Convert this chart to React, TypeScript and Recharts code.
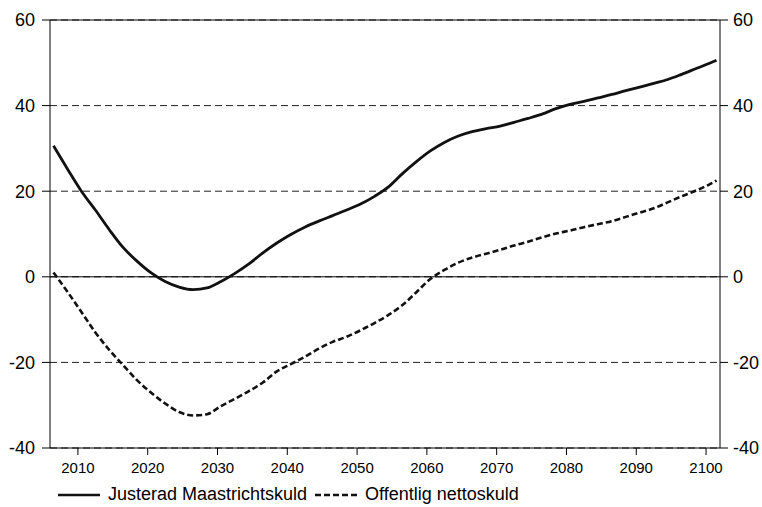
import { ComposedChart, Line, XAxis, YAxis, CartesianGrid, ReferenceLine, Legend } from "recharts"

const FONT = '"Liberation Sans", Arial, sans-serif'

// years of the two series (last point 2101)
const years = [
    2006, 2008, 2010, 2012, 2014, 2016, 2018, 2020, 2022, 2024, 2026, 2028, 2030, 2032, 2034, 2036,
    2038, 2040, 2042, 2044, 2046, 2048, 2050, 2052, 2054, 2056, 2058, 2060, 2062, 2064, 2066, 2068,
    2070, 2072, 2074, 2076, 2078, 2080, 2082, 2084, 2086, 2088, 2090, 2092, 2094, 2096, 2098, 2100, 2101,
]

const maastricht = [
    30.6, 25.2, 20.0, 15.6, 11.0, 6.8, 3.6, 0.9, -1.1, -2.4, -3.0, -2.6, -1.1, 0.8, 3.0, 5.6,
    7.9, 9.9, 11.6, 13.0, 14.3, 15.6, 17.0, 18.8, 21.0, 24.1, 26.9, 29.4, 31.4, 32.9, 33.9, 34.6,
    35.2, 36.1, 37.0, 38.0, 39.3, 40.3, 41.0, 41.8, 42.6, 43.5, 44.3, 45.2, 46.1, 47.3, 48.6, 49.9, 50.6,
]

const netto = [
    1.0, -3.5, -8.2, -13.0, -17.1, -20.7, -24.2, -27.1, -29.6, -31.6, -32.4, -32.1, -30.2, -28.5, -26.7, -24.7,
    -22.1, -20.4, -18.7, -16.8, -15.2, -14.0, -12.5, -10.8, -8.9, -6.6, -3.6, -0.5, 1.6, 3.3, 4.5, 5.4,
    6.3, 7.3, 8.2, 9.2, 10.1, 10.8, 11.6, 12.3, 13.0, 14.0, 15.0, 16.0, 17.4, 18.8, 20.1, 21.6, 22.5,
]

const xTicks = [2010, 2020, 2030, 2040, 2050, 2060, 2070, 2080, 2090, 2100]
const yTicks = [-40, -20, 0, 20, 40, 60]

const rows = years.map((year, i) => ({ year, maastricht: maastricht[i], netto: netto[i] }))

const seriesDash: Record<string, string | undefined> = { maastricht: undefined, netto: "6 3" }

const LegendContent = (props: any) => {
    const { payload = [] } = props
    return (
        <div style={{ display: "flex", alignItems: "center", fontFamily: FONT, fontSize: 18, color: "#000", whiteSpace: "nowrap" }}>
            {payload.map((entry: any, i: number) => (
                <div key={i} style={{ display: "flex", alignItems: "center", marginLeft: i === 0 ? 0 : 8 }}>
                    <svg width={42} height={6}>
                        <line x1={0} y1={3} x2={42} y2={3} stroke="#111" strokeWidth={2.5}
                            strokeDasharray={seriesDash[entry.dataKey]} />
                    </svg>
                    <span style={{ marginLeft: 8 }}>{entry.value}</span>
                </div>
            ))}
        </div>
    )
}

export default function App() {
    return (
        <div style={{ position: "absolute", left: 0, top: 0, background: "#fff" }}>
            <ComposedChart width={762} height={507} data={rows} margin={{ top: 20, right: 0, bottom: 0, left: 0 }}>
                <CartesianGrid vertical={false} stroke="#222" strokeDasharray="7 4" />
                <XAxis
                    type="number"
                    dataKey="year"
                    domain={[2006, 2102]}
                    allowDataOverflow
                    ticks={xTicks}
                    height={59}
                    tickSize={7}
                    tickMargin={7}
                    stroke="#000"
                    tick={{ fill: "#000", fontSize: 15, fontFamily: FONT }}
                />
                <XAxis xAxisId="line" type="number" dataKey="year" domain={[2005.5, 2101.5]} hide />
                <YAxis
                    domain={[-40, 60]}
                    ticks={yTicks}
                    width={50}
                    tickSize={8}
                    tickMargin={7}
                    stroke="#000"
                    tick={{ fill: "#000", fontSize: 18, fontFamily: FONT }}
                />
                <YAxis
                    yAxisId="right"
                    orientation="right"
                    domain={[-40, 60]}
                    allowDataOverflow
                    ticks={yTicks}
                    width={42}
                    tickSize={8}
                    tickMargin={5}
                    stroke="#000"
                    tick={{ fill: "#000", fontSize: 18, fontFamily: FONT, textAnchor: "start" }}
                />
                <ReferenceLine y={0} stroke="#000" strokeWidth={1} />
                <ReferenceLine y={60} stroke="#000" strokeWidth={1} />
                <Line
                    xAxisId="line"
                    dataKey="maastricht"
                    name="Justerad Maastrichtskuld"
                    type="monotone"
                    stroke="#111"
                    strokeWidth={2.8}
                    dot={false}
                    isAnimationActive={false}
                />
                <Line
                    xAxisId="line"
                    dataKey="netto"
                    name="Offentlig nettoskuld"
                    type="monotone"
                    stroke="#111"
                    strokeWidth={2.6}
                    strokeDasharray="6 3"
                    dot={false}
                    isAnimationActive={false}
                />
                <Legend
                    layout="horizontal"
                    verticalAlign="middle"
                    align="center"
                    content={<LegendContent />}
                    wrapperStyle={{ position: "absolute", left: 58, top: 484, width: 600 }}
                />
            </ComposedChart>
        </div>
    )
}
